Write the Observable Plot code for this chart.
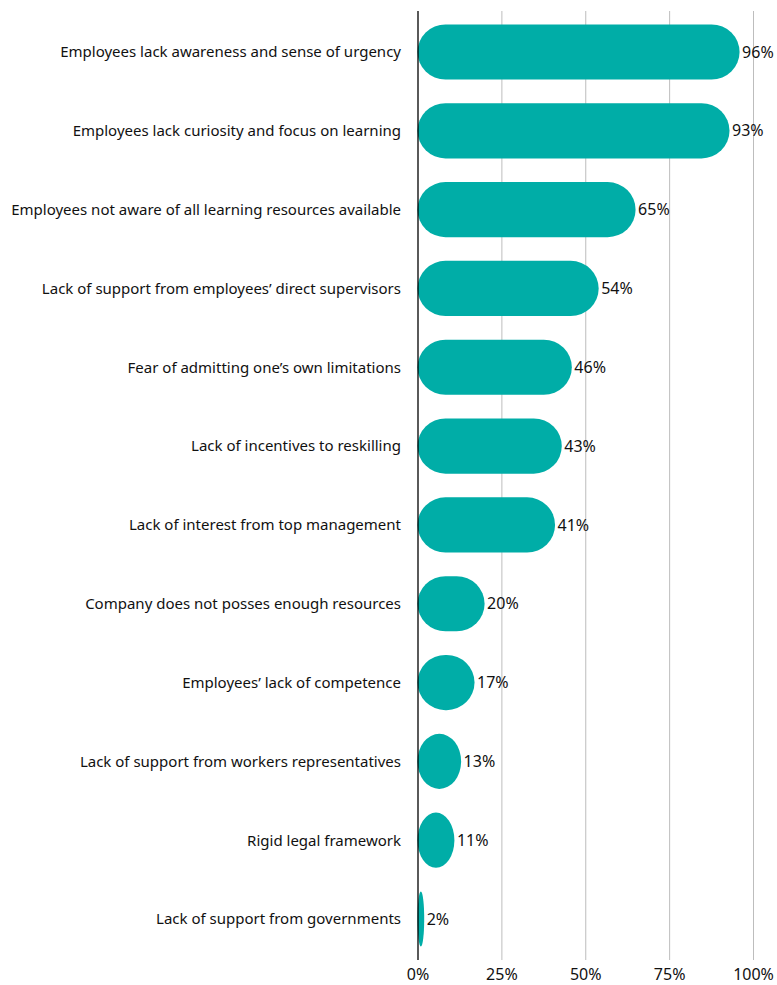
<!DOCTYPE html>
<html><head><meta charset="utf-8">
<script src="https://cdn.jsdelivr.net/npm/d3@7"></script>
<script src="https://cdn.jsdelivr.net/npm/@observablehq/plot@0.6"></script>
<style>body{margin:0;background:#fff;} svg{display:block;}</style>
</head><body><div id="chart"></div>
<script>
const categories = [
  "Employees lack awareness and sense of urgency",
  "Employees lack curiosity and focus on learning",
  "Employees not aware of all learning resources available",
  "Lack of support from employees’ direct supervisors",
  "Fear of admitting one’s own limitations",
  "Lack of incentives to reskilling",
  "Lack of interest from top management",
  "Company does not posses enough resources",
  "Employees’ lack of competence",
  "Lack of support from workers representatives",
  "Rigid legal framework",
  "Lack of support from governments"
];
const values = [96, 93, 65, 54, 46, 43, 41, 20, 17, 13, 11, 2];
const xTicks = [0, 25, 50, 75, 100];
const gridTicks = [25, 50, 75, 100];

const data = categories.map((c, i) => ({category: c, value: values[i]}));
const font = "'Noto Sans', Lato, sans-serif";

const chart = Plot.plot({
  width: 777,
  height: 985,
  marginLeft: 417.5,
  marginRight: 24,
  marginTop: 11,
  marginBottom: 25,
  style: {fontFamily: font, fontSize: "14px", color: "#111", background: "#fff"},
  x: {domain: [0, 100], ticks: xTicks, tickFormat: d => d + "%", label: null, tickSize: 0, tickPadding: 9},
  y: {domain: categories, paddingInner: 0.3, paddingOuter: 0.17, round: false, label: null, tickSize: 0, tickPadding: 17},
  marks: [
    Plot.ruleX(gridTicks, {stroke: "#bdbdbd", strokeWidth: 1}),
    Plot.barX(data, {y: "category", x: "value", fill: "#00ada7", rx: 28}),
    Plot.ruleX([0], {stroke: "#000", strokeWidth: 1.3}),
    Plot.text(data, {y: "category", x: "value", text: d => d.value + "%", textAnchor: "start", dx: 2, fontSize: 16, fill: "#111"}),
    Plot.axisY({tickSize: 0, tickPadding: 17, fontSize: 15}),
    Plot.axisX({ticks: xTicks, tickFormat: d => d + "%", tickSize: 0, tickPadding: 8, fontSize: 16, label: null})
  ]
});
document.getElementById("chart").appendChild(chart);
</script></body></html>
